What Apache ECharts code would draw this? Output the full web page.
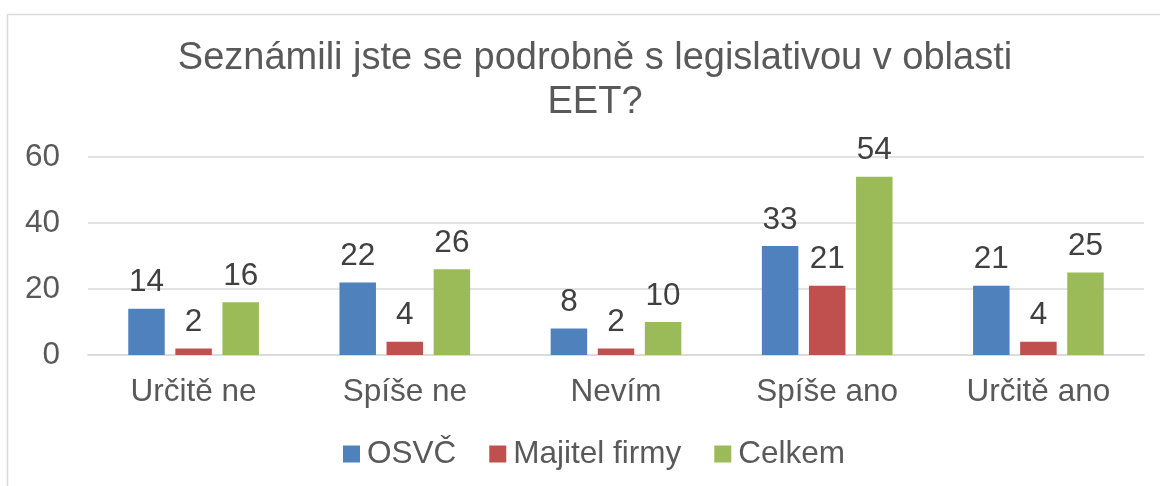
<!DOCTYPE html>
<html><head><meta charset="utf-8">
<script src="https://cdn.jsdelivr.net/npm/echarts@6/dist/echarts.min.js"></script>
<style>html,body{margin:0;padding:0;background:#fff}#c{width:1160px;height:486px}</style>
</head><body><div id="c"></div>
<script>
const categories = ['Určitě ne', 'Spíše ne', 'Nevím', 'Spíše ano', 'Určitě ano'];
const osvc = [14, 22, 8, 33, 21];
const majitel = [2, 4, 2, 21, 4];
const celkem = [16, 26, 10, 54, 25];
const seriesNames = ['OSVČ', 'Majitel firmy', 'Celkem'];
const yTicks = {min: 0, max: 60, interval: 20};

const FONT = '"Liberation Sans", Arial, sans-serif';
const FS = 31.5;
const chart = echarts.init(document.getElementById('c'), null, {renderer: 'canvas'});
const lbl = {show: true, position: 'top', distance: 10, color: '#404040', fontSize: FS, fontFamily: FONT};
function bar(name, data, color) {
  return {name, type: 'bar', data, barWidth: 36.5, barGap: '29%', itemStyle: {color}, label: lbl};
}
chart.setOption({
  animation: false,
  textStyle: {fontFamily: FONT},
  graphic: [{type: 'rect', shape: {x: 7.5, y: 14.5, width: 1200, height: 600}, style: {fill: 'none', stroke: '#D9D9D9', lineWidth: 1.5}, silent: true}],
  title: {
    text: 'Seznámili jste se podrobně s legislativou v oblasti\nEET?',
    left: 590, top: 32, textAlign: 'center',
    textStyle: {color: '#595959', fontSize: 38, fontWeight: 'normal', fontFamily: FONT, lineHeight: 44}
  },
  legend: {
    data: seriesNames, left: 338, top: 433, itemWidth: 17, itemHeight: 17, itemGap: 33,
    icon: 'rect', textStyle: {color: '#595959', fontSize: FS, fontFamily: FONT, padding: [0, 0, 0, 2]}
  },
  grid: {left: 88, right: 16, top: 157, bottom: 131, containLabel: false},
  xAxis: {
    type: 'category', data: categories,
    axisLine: {lineStyle: {color: '#D9D9D9', width: 1.5}}, axisTick: {show: false},
    axisLabel: {color: '#595959', fontSize: FS, fontFamily: FONT, margin: 21}
  },
  yAxis: {
    type: 'value', min: yTicks.min, max: yTicks.max, interval: yTicks.interval,
    axisLine: {show: false}, axisTick: {show: false},
    splitLine: {lineStyle: {color: '#D9D9D9', width: 1.5}},
    axisLabel: {color: '#595959', fontSize: FS, fontFamily: FONT, margin: 28}
  },
  series: [bar(seriesNames[0], osvc, '#4F81BD'), bar(seriesNames[1], majitel, '#C0504D'), bar(seriesNames[2], celkem, '#9BBB59')]
});
</script></body></html>
